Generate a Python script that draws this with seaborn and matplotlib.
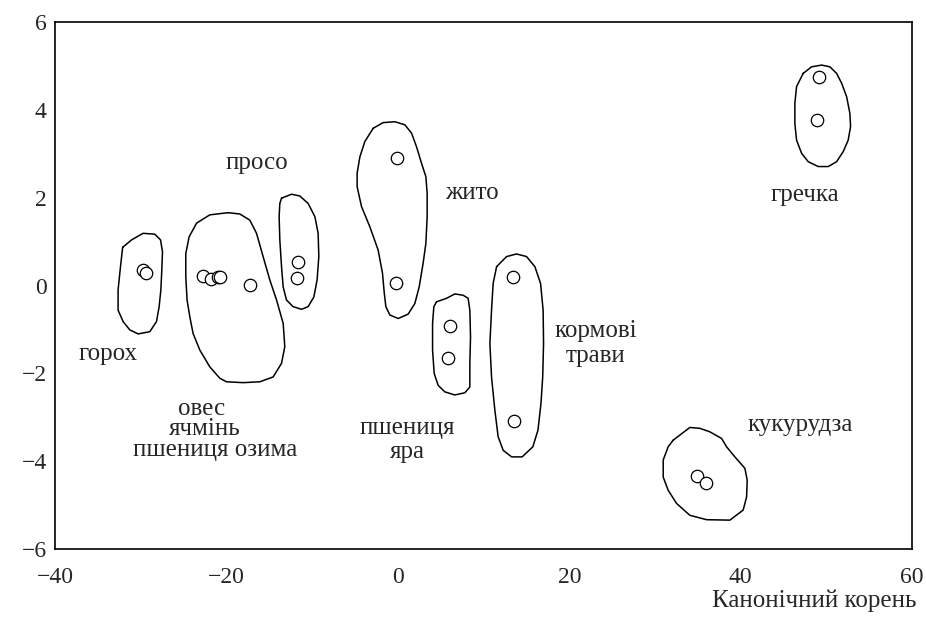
import numpy as np
import pandas as pd
import matplotlib
matplotlib.use("Agg")
import matplotlib.pyplot as plt
from matplotlib.ticker import MultipleLocator
import seaborn as sns

# ---- data: group centroids (canonical roots) ----
pt_group = ["горох", "горох",
            "овес", "овес", "овес", "овес", "овес",
            "просо", "просо",
            "жито", "жито",
            "пшениця яра", "пшениця яра",
            "кормові трави", "кормові трави",
            "гречка", "гречка",
            "кукурудза", "кукурудза"]
pt_x = [-29.7, -29.4,
        -22.75, -21.8, -21.0, -20.8, -17.3,
        -11.6, -11.75,
        -0.15, -0.2,
        6.07, 5.87,
        13.4, 13.55,
        49.1, 48.85,
        34.9, 35.95]
pt_y = [0.35, 0.28,
        0.21, 0.14, 0.19, 0.19, 0.01,
        0.54, 0.18,
        2.9, 0.07,
        -0.92, -1.64,
        0.19, -3.08,
        4.74, 3.77,
        -4.34, -4.5]

# ---- data: outlines of group regions ----
hull_gorokh_x = [-32.05, -31.07, -29.72, -28.36, -27.69, -27.46, -27.54, -27.65, -27.85, -28.16,
                 -28.94, -30.30, -31.27, -32.05, -32.64, -32.64, -32.36, -32.12]
hull_gorokh_y = [0.88, 1.04, 1.19, 1.17, 1.04, 0.77, 0.35, -0.10, -0.48, -0.82,
                 -1.05, -1.10, -1.01, -0.82, -0.56, -0.10, 0.43, 0.85]

hull_oves_x = [-19.80, -21.94, -23.49, -24.35, -24.74, -24.74, -24.59, -24.27, -23.89, -23.10,
               -21.94, -20.77, -19.99, -18.05, -16.10, -14.55, -13.57, -13.19, -13.38, -14.15,
               -14.94, -15.72, -16.49, -17.27, -18.44]
hull_oves_y = [1.66, 1.61, 1.42, 1.11, 0.73, 0.20, -0.33, -0.71, -1.09, -1.47,
               -1.85, -2.11, -2.19, -2.21, -2.19, -2.08, -1.77, -1.39, -0.86, -0.33,
               0.13, 0.66, 1.19, 1.49, 1.63]

hull_proso_x = [-13.57, -12.40, -11.44, -10.47, -9.68, -9.30, -9.22, -9.42, -9.80, -10.47,
                -11.24, -12.22, -12.99, -13.38, -13.57, -13.77, -13.85, -13.77]
hull_proso_y = [1.99, 2.08, 2.04, 1.87, 1.57, 1.19, 0.66, 0.13, -0.26, -0.48,
                -0.54, -0.48, -0.33, -0.03, 0.43, 1.04, 1.57, 1.87]

hull_zhyto_x = [-2.88, -1.72, -0.35, 0.82, 1.60, 2.18, 2.77, 3.27, 3.42, 3.42, 3.27, 2.95, 2.49,
                1.98, 1.20, 0.04, -0.93, -1.40, -1.60, -1.79, -2.30, -3.27, -4.24, -4.75,
                -4.75, -4.43, -3.85]
hull_zhyto_y = [3.58, 3.71, 3.73, 3.66, 3.47, 3.16, 2.78, 2.48, 2.10, 1.57, 0.96, 0.51, -0.03,
                -0.41, -0.65, -0.75, -0.67, -0.48, -0.14, 0.28, 0.81, 1.34, 1.80, 2.25,
                2.56, 2.93, 3.28]

hull_pshen_x = [4.51, 5.68, 6.65, 7.62, 8.20, 8.40, 8.48, 8.40, 8.40, 7.82, 6.65, 5.48, 4.70,
                4.24, 4.05, 4.05, 4.20]
hull_pshen_y = [-0.37, -0.29, -0.19, -0.22, -0.29, -0.56, -1.17, -1.77, -2.31, -2.44, -2.49,
                -2.42, -2.27, -2.00, -1.47, -0.86, -0.48]

hull_korm_x = [11.52, 12.68, 13.85, 15.02, 15.99, 16.65, 16.95, 17.0, 16.9, 16.7, 16.35, 15.75,
               14.5, 13.27, 12.29, 11.70, 11.32, 10.93, 10.74, 10.93, 11.12]
hull_korm_y = [0.43, 0.66, 0.72, 0.66, 0.43, 0.05, -0.56, -1.32, -2.08, -2.68, -3.29, -3.67,
               -3.90, -3.90, -3.75, -3.44, -2.84, -2.08, -1.32, -0.56, 0.05]

hull_grech_x = [47.29, 48.27, 49.44, 50.41, 51.19, 51.77, 52.36, 52.74, 52.82, 52.54, 51.96,
                51.19, 50.21, 49.04, 47.88, 47.11, 46.52, 46.32, 46.32, 46.52]
hull_grech_y = [4.83, 4.98, 5.02, 4.98, 4.83, 4.61, 4.30, 3.92, 3.62, 3.31, 3.05,
                2.82, 2.71, 2.71, 2.82, 3.01, 3.31, 3.69, 4.15, 4.53]

hull_kuk_x = [32.12, 34.07, 35.24, 36.41, 37.77, 38.35, 39.32, 40.49, 40.76, 40.69, 40.29,
              38.74, 36.02, 34.07, 32.52, 31.54, 30.96, 30.96, 31.54]
hull_kuk_y = [-3.52, -3.23, -3.25, -3.33, -3.48, -3.67, -3.90, -4.16, -4.43, -4.81, -5.11,
              -5.34, -5.33, -5.23, -4.96, -4.66, -4.36, -3.97, -3.67]

hulls = {
    "горох": (hull_gorokh_x, hull_gorokh_y),
    "овес": (hull_oves_x, hull_oves_y),
    "просо": (hull_proso_x, hull_proso_y),
    "жито": (hull_zhyto_x, hull_zhyto_y),
    "пшениця яра": (hull_pshen_x, hull_pshen_y),
    "кормові трави": (hull_korm_x, hull_korm_y),
    "гречка": (hull_grech_x, hull_grech_y),
    "кукурудза": (hull_kuk_x, hull_kuk_y),
}

# labels (one entry per text line): text, x, y
label_text = ["просо", "жито", "гречка", "горох", "кормові", "трави",
              "овес", "ячмінь", "пшениця озима", "пшениця", "яра", "кукурудза"]
label_x = [-16.45, 8.6, 47.5, -33.8, 23.1, 23.1,
           -22.9, -22.5, -21.35, 1.05, 1.15, 46.9]
label_y = [2.80, 2.10, 2.06, -1.56, -1.04, -1.60,
           -2.80, -3.27, -3.74, -3.24, -3.78, -3.18]

x_label = "Канонічний корень"

# ---- build tables ----
pts = pd.DataFrame({"group": pt_group, "x": pt_x, "y": pt_y})
rows = []
for g, (hx, hy) in hulls.items():
    hx = list(hx) + [hx[0]]
    hy = list(hy) + [hy[0]]
    for i, (a, b) in enumerate(zip(hx, hy)):
        rows.append({"group": g, "order": i, "x": a, "y": b})
hull_df = pd.DataFrame(rows)

sns.set_style("white")
plt.rcParams["font.family"] = ["Liberation Serif", "DejaVu Serif"]
plt.rcParams["axes.unicode_minus"] = True

fig = plt.figure(figsize=(9.26, 6.17), dpi=100)
ax = fig.add_axes([0.0594, 0.110, 0.9256, 0.8543])

sns.lineplot(data=hull_df, x="x", y="y", units="group", estimator=None, sort=False,
             color="black", linewidth=1.1, ax=ax, legend=False)
sns.scatterplot(data=pts, x="x", y="y", s=80, facecolor="white", edgecolor="black",
                linewidth=0.9, ax=ax, legend=False, zorder=3)

for t, tx, ty in zip(label_text, label_x, label_y):
    ax.text(tx, ty, t, ha="center", va="center", fontsize=18)

ax.set_xlim(-40, 60)
ax.set_ylim(-6, 6)
ax.xaxis.set_major_locator(MultipleLocator(20))
ax.xaxis.set_minor_locator(MultipleLocator(4))
ax.yaxis.set_major_locator(MultipleLocator(2))
ax.yaxis.set_minor_locator(MultipleLocator(1))
ax.tick_params(which="both", direction="in", length=6, width=1.0, color="black",
               top=False, right=False, labelsize=17, pad=6)
ax.tick_params(axis="x", pad=13)
for s in ax.spines.values():
    s.set_color("black")
    s.set_linewidth(1.2)
ax.set_xlabel("")
ax.set_ylabel("")
fig.text(0.99, 0.026, x_label, ha="right", va="center", fontsize=18)

fig.savefig("out.png", dpi=100)
